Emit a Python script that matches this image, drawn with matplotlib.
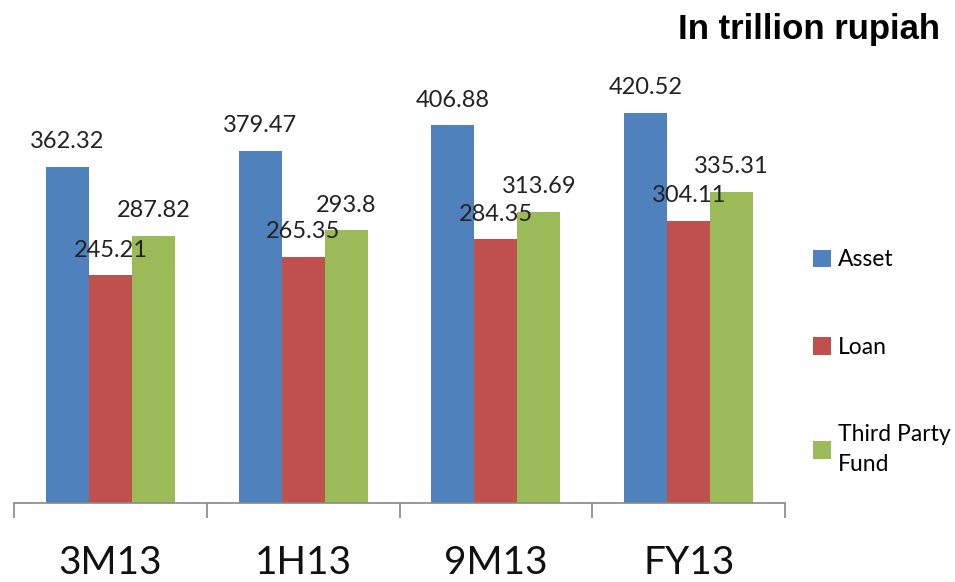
import matplotlib
matplotlib.use('Agg')
import matplotlib.pyplot as plt
import numpy as np

categories = ['3M13', '1H13', '9M13', 'FY13']
series_names = ['Asset', 'Loan', 'Third Party\nFund']
asset = [362.32, 379.47, 406.88, 420.52]
loan = [245.21, 265.35, 284.35, 304.11]
third_party_fund = [287.82, 293.8, 313.69, 335.31]
label_text = [['362.32', '379.47', '406.88', '420.52'],
              ['245.21', '265.35', '284.35', '304.11'],
              ['287.82', '293.8', '313.69', '335.31']]
colors = ['#4F81BD', '#C0504D', '#9BBB59']

plt.rcParams['font.family'] = ['Lato', 'DejaVu Sans']

fig = plt.figure(figsize=(9.55, 5.82), dpi=100)
ax = fig.add_axes([14 / 955, 1 - 503 / 582, (785 - 14) / 955, 464 / 582])

x = np.arange(len(categories))
width = 0.223
handles = []
for i, (vals, name) in enumerate(zip([asset, loan, third_party_fund], series_names)):
    pos = x + (i - 1) * width
    bars = ax.bar(pos, vals, width=width, color=colors[i], label=name)
    handles.append(bars)
    for xp, v, t in zip(pos, vals, label_text[i]):
        ax.annotate(t, (xp, v), xytext=(0, 18), textcoords='offset points',
                    ha='center', va='center', fontsize=17, color='#222222')

ax.set_xlim(-0.5, len(categories) - 0.5)
ax.set_ylim(0, 500)
ax.set_yticks([])
for s in ['left', 'top', 'right']:
    ax.spines[s].set_visible(False)
ax.spines['bottom'].set_color('#888888')
ax.spines['bottom'].set_linewidth(1.2)

ax.set_xticks(x)
ax.set_xticklabels(categories, fontsize=28, color='#111111')
ax.set_xticks(np.arange(len(categories) + 1) - 0.5, minor=True)
ax.tick_params(axis='x', which='major', length=0, pad=30)
ax.tick_params(axis='x', which='minor', length=11, width=1.2, color='#888888')

leg = fig.legend(handles=handles, labels=series_names, loc='center left',
                 bbox_to_anchor=(813 / 955, 1 - 362 / 582), frameon=False,
                 fontsize=16.5, labelspacing=2.9, handlelength=0.8, handleheight=0.8,
                 handletextpad=0.3, borderpad=0, borderaxespad=0)
for t in leg.get_texts():
    t.set_linespacing(1.5)

fig.text(940 / 955, 1 - 30 / 582, 'In trillion rupiah', ha='right', va='center',
         fontsize=25, fontweight='bold', family=['Liberation Sans', 'DejaVu Sans'])

fig.savefig('out.png', dpi=100)
